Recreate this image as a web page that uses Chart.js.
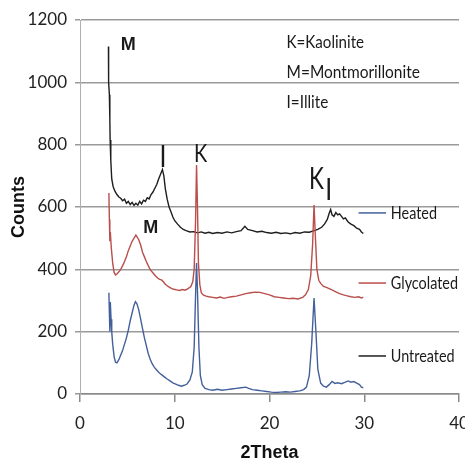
<!DOCTYPE html>
<html>
<head>
<meta charset="utf-8">
<script src="https://cdn.jsdelivr.net/npm/chart.js@4.4.0/dist/chart.umd.min.js"></script>
<style>
  html, body { margin: 0; padding: 0; background: #fff; }
  #wrap { width: 465px; height: 471px; }
</style>
</head>
<body>
<div id="wrap"><canvas id="xrd-chart" width="465" height="471"></canvas></div>
<script>
// series names (legend order as in the picture)
var seriesNames = ['Heated', 'Glycolated', 'Untreated'];
var xTicks = [0, 10, 20, 30, 40];
var yTicks = [0, 200, 400, 600, 800, 1000, 1200];

// Untreated (black)
var untreatedX = [3.0,3.02,3.1,3.15,3.18,3.25,3.35,3.5,3.7,3.9,4.1,4.3,4.5,4.7,4.9,5.1,5.3,5.5,5.7,5.9,6.1,6.3,6.5,6.7,6.9,7.1,7.3,7.5,7.7,7.9,8.1,8.3,8.5,8.7,8.85,9.0,9.2,9.4,9.6,9.8,10.0,10.3,10.6,10.9,11.2,11.6,12.0,12.4,12.8,13.2,13.6,14.0,14.5,15.0,15.5,16.0,16.5,17.0,17.4,17.7,18.2,18.7,19.2,19.7,20.2,20.7,21.2,21.7,22.2,22.7,23.2,23.7,24.2,24.7,25.1,25.5,25.8,26.1,26.3,26.45,26.6,26.8,27.0,27.2,27.4,27.6,27.8,28.0,28.3,28.6,28.9,29.2,29.5,29.7,29.9];
var untreatedY = [1115,1000,960,880,815,750,690,665,650,640,632,628,620,625,612,618,608,615,605,612,606,618,610,622,618,630,626,640,648,660,672,690,705,720,700,660,625,600,585,568,556,545,535,528,524,520,521,517,520,516,519,515,518,516,520,517,521,524,538,528,524,520,522,518,516,519,515,517,514,518,516,520,519,524,528,535,545,560,580,592,575,570,582,575,578,570,562,565,552,545,540,532,528,520,515];

// Glycolated (red)
var glycolatedX = [3.05,3.1,3.15,3.2,3.3,3.45,3.6,3.75,3.9,4.1,4.3,4.5,4.7,4.9,5.1,5.3,5.5,5.7,5.9,6.0,6.2,6.4,6.6,6.8,7.0,7.2,7.4,7.6,7.8,8.0,8.2,8.4,8.6,8.8,9.0,9.3,9.6,9.9,10.2,10.5,10.8,11.1,11.4,11.7,11.9,12.05,12.2,12.3,12.4,12.5,12.65,12.8,13.0,13.3,13.6,14.0,14.4,14.8,15.2,15.6,16.0,16.5,17.0,17.5,18.0,18.5,19.0,19.5,20.0,20.5,21.0,21.5,22.0,22.5,23.0,23.5,23.8,24.1,24.35,24.55,24.7,24.85,25.0,25.2,25.4,25.7,26.0,26.3,26.6,27.0,27.4,27.8,28.2,28.6,29.0,29.4,29.7,29.9];
var glycolatedY = [645,560,490,520,470,420,390,382,385,392,400,412,425,440,460,475,490,500,510,505,495,478,455,440,425,412,400,392,385,378,372,368,366,360,352,345,340,336,334,332,335,333,338,345,360,400,560,735,600,420,350,325,318,314,312,310,308,311,307,310,312,314,318,322,325,327,326,322,318,312,310,308,306,307,305,310,318,335,380,480,606,500,400,365,355,345,342,338,334,328,322,318,315,312,310,312,308,311];

// Heated (blue)
var heatedX = [3.05,3.1,3.15,3.2,3.28,3.35,3.45,3.6,3.75,3.9,4.1,4.3,4.5,4.7,4.9,5.1,5.3,5.5,5.7,5.85,6.0,6.2,6.4,6.6,6.8,7.0,7.2,7.4,7.6,7.8,8.0,8.3,8.6,8.9,9.2,9.5,9.8,10.1,10.4,10.7,11.0,11.3,11.6,11.85,12.05,12.2,12.3,12.4,12.55,12.7,12.9,13.2,13.6,14.0,14.5,15.0,15.5,16.0,16.5,17.0,17.5,17.8,18.2,18.7,19.2,19.7,20.2,20.7,21.2,21.7,22.2,22.7,23.2,23.6,23.9,24.2,24.45,24.7,24.9,25.1,25.4,25.7,26.0,26.3,26.6,26.9,27.2,27.6,28.0,28.3,28.6,28.9,29.2,29.5,29.7,29.9];
var heatedY = [325,260,200,295,240,200,160,120,102,100,110,125,140,160,180,205,235,260,285,296,290,270,240,210,180,155,130,112,98,88,80,70,62,55,48,42,36,32,28,25,28,32,45,70,150,320,420,330,150,60,30,18,14,12,15,12,14,16,18,20,22,18,14,12,10,8,6,5,6,7,6,8,10,14,22,60,160,308,200,80,35,25,22,30,40,34,36,33,38,42,38,40,35,30,22,20];

var seriesColors = ['#44609c', '#b94e4b', '#1e1e1e'];

function toPoints(xs, ys) {
    var pts = [];
    for (var i = 0; i < xs.length; i++) pts.push({x: xs[i], y: ys[i]});
    return pts;
}

var narrow = "Lato, 'Liberation Sans', sans-serif";
var bold = "'Liberation Sans', Arial, sans-serif";

// text labels on the plot (data coordinates); sq = horizontal squeeze
var notes = [
    {text: 'M', x: 4.3, y: 1120, font: 'bold 18px ' + bold, align: 'left', sq: 1},
    {text: 'K=Kaolinite', x: 21.8, y: 1129, font: '18px ' + narrow, align: 'left', sq: 0.84},
    {text: 'M=Montmorillonite', x: 21.8, y: 1033, font: '18px ' + narrow, align: 'left', sq: 0.86},
    {text: 'I=Illite', x: 21.8, y: 937, font: '18px ' + narrow, align: 'left', sq: 0.85},
    {text: 'I', x: 8.77, y: 760, font: '31px ' + narrow, align: 'center', sq: 0.8},
    {text: 'K', x: 12.74, y: 770, font: '25px ' + narrow, align: 'center', sq: 0.8},
    {text: 'K', x: 24.95, y: 688, font: '30px ' + narrow, align: 'center', sq: 0.75},
    {text: 'I', x: 26.26, y: 654, font: '31px ' + narrow, align: 'center', sq: 0.8},
    {text: 'M', x: 7.47, y: 533, font: 'bold 18px ' + bold, align: 'center', sq: 1}
];
// legend rows: y value in data units where each row sits
var legendRows = [581, 356, 122];

function squeezedText(ctx, text, px, py, sq) {
    ctx.save();
    ctx.translate(px, py);
    ctx.scale(sq, 1);
    ctx.fillText(text, 0, 0);
    ctx.restore();
}

var notesPlugin = {
    id: 'notes',
    afterDatasetsDraw: function(chart) {
        var ctx = chart.ctx, xs = chart.scales.x, ys = chart.scales.y;
        ctx.save();
        ctx.textBaseline = 'middle';
        ctx.fillStyle = '#1a1a1a';
        notes.forEach(function(n) {
            ctx.font = n.font;
            ctx.textAlign = n.align;
            squeezedText(ctx, n.text, xs.getPixelForValue(n.x), ys.getPixelForValue(n.y), n.sq);
        });
        // legend
        ctx.font = '18px ' + narrow;
        ctx.textAlign = 'left';
        seriesNames.forEach(function(name, i) {
            var py = ys.getPixelForValue(legendRows[i]);
            ctx.strokeStyle = seriesColors[i];
            ctx.lineWidth = 1.5;
            ctx.beginPath();
            ctx.moveTo(xs.getPixelForValue(29.4), py);
            ctx.lineTo(xs.getPixelForValue(32.3), py);
            ctx.stroke();
            ctx.fillStyle = '#1a1a1a';
            squeezedText(ctx, name, xs.getPixelForValue(32.8), py, 0.8);
        });
        ctx.restore();
    }
};

new Chart(document.getElementById('xrd-chart'), {
    type: 'line',
    data: {
        datasets: [
            {label: 'Heated', data: toPoints(heatedX, heatedY), borderColor: seriesColors[0]},
            {label: 'Glycolated', data: toPoints(glycolatedX, glycolatedY), borderColor: seriesColors[1]},
            {label: 'Untreated', data: toPoints(untreatedX, untreatedY), borderColor: seriesColors[2]}
        ]
    },
    options: {
        responsive: false,
        animation: false,
        events: [],
        layout: {padding: {top: 20, right: 6, left: 0, bottom: 0}},
        elements: {
            point: {radius: 0},
            line: {borderWidth: 1.4, tension: 0, fill: false}
        },
        plugins: {legend: {display: false}, tooltip: {enabled: false}},
        scales: {
            x: {
                type: 'linear', min: 0, max: 40,
                afterFit: function(s) { s.height = 77; s.paddingLeft = 0; s.paddingRight = 0; },
                afterBuildTicks: function(s) { s.ticks = xTicks.map(function(v) { return {value: v}; }); },
                grid: {drawOnChartArea: false, drawTicks: true, tickLength: 8, color: '#8a8a8a', lineWidth: 1.5},
                border: {display: true, color: '#8a8a8a', width: 1.5},
                ticks: {padding: 11, color: '#222', font: {family: narrow, size: 17},
                        callback: function(v) { return String(v); }},
                title: {display: true, text: '2Theta', color: '#111', padding: {top: 0, bottom: 7},
                        font: {family: bold, size: 18, weight: 'bold'}}
            },
            y: {
                min: 0, max: 1200,
                afterFit: function(s) { s.width = 80; s.paddingTop = 0; s.paddingBottom = 0; },
                afterBuildTicks: function(s) { s.ticks = yTicks.map(function(v) { return {value: v}; }); },
                grid: {color: '#9a9a9a', lineWidth: 1.5, tickLength: 5},
                border: {display: true, color: '#b0b0b0', width: 1},
                ticks: {padding: 8, color: '#222', font: {family: narrow, size: 17},
                        callback: function(v) { return String(v); }},
                title: {display: true, text: 'Counts', color: '#111', padding: {top: 8, bottom: 0},
                        font: {family: bold, size: 18, weight: 'bold'}}
            }
        }
    },
    plugins: [notesPlugin]
});
</script>
</body>
</html>
